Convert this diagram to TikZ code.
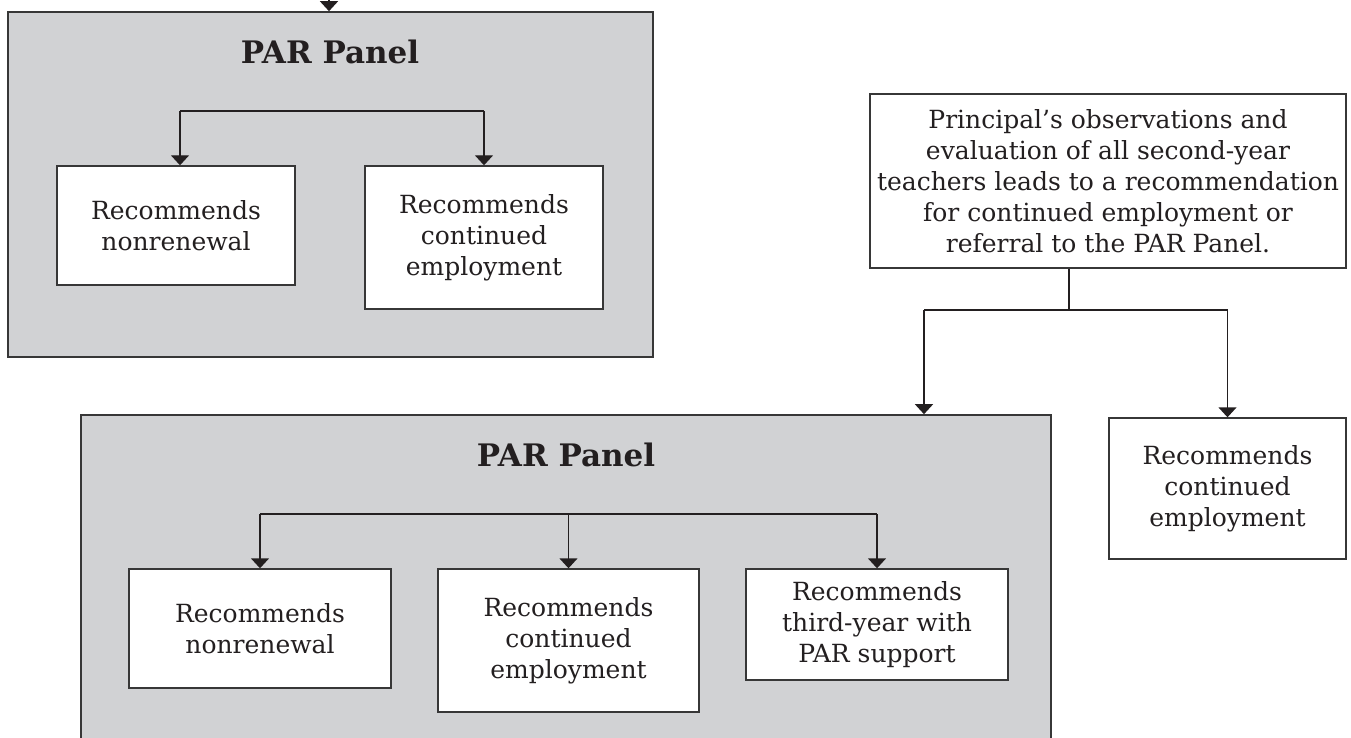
\documentclass[tikz,border=0pt]{standalone}
\usepackage{fontspec}
\setmainfont{DejaVu Serif}
\usetikzlibrary{arrows.meta}
\definecolor{panelgray}{RGB}{209,210,212}
\definecolor{ink}{RGB}{35,31,32}
\definecolor{edge}{RGB}{55,55,55}
\tikzset{
  panel/.style={draw=edge, fill=panelgray, line width=0.8pt, inner sep=0pt},
  wbox/.style={draw=edge, fill=white, line width=0.7pt, inner sep=0pt, align=center, text=ink,
     font=\fontsize{12.5}{15.5}\selectfont},
  ptitle/.style={text=ink, font=\fontsize{15.5}{18}\selectfont\bfseries, inner sep=0pt},
  conn/.style={draw=ink, line width=0.7pt},
  arr/.style={conn, -{Triangle[width=9pt,length=5pt]}}
}
\begin{document}
\begin{tikzpicture}[x=0.5pt,y=-0.5pt]
\useasboundingbox (0,0) rectangle (1351,738);
% top panel
\node[panel, minimum width=322.5pt, minimum height=172.5pt] (P1) at (330.5,184.5) {};
\node[ptitle] (T1) at (330,52) {PAR Panel};
\node[wbox, minimum width=119pt, minimum height=59.5pt] (A1) at (176,225.5) {Recommends\\nonrenewal};
\node[wbox, minimum width=119pt, minimum height=71.5pt] (B1) at (484,237.5) {Recommends\\continued\\employment};
\coordinate (topin) at (329,-10);
\draw[arr] (topin) -- (topin |- P1.north);
\coordinate (s1l) at (180,111);
\coordinate (s1r) at (484,111);
\draw[conn] (s1l) -- (s1r);
\draw[arr] (s1l) -- (s1l |- A1.north);
\draw[arr] (s1r) -- (B1.north);
% principal box
\node[wbox, minimum width=238pt, minimum height=87pt] (Pr) at (1108,181) {Principal’s observations and\\evaluation of all second-year\\teachers leads to a recommendation\\for continued employment or\\referral to the PAR Panel.};
\node[wbox, minimum width=118.5pt, minimum height=70.5pt] (R) at (1227.5,488.5) {Recommends\\continued\\employment};
% bottom panel
\node[panel, minimum width=485pt, minimum height=192.5pt] (P2) at (566,607.5) {};
\node[ptitle] (T2) at (566,455) {PAR Panel};
\node[wbox, minimum width=131pt, minimum height=59.5pt] (A2) at (260,628.5) {Recommends\\nonrenewal};
\node[wbox, minimum width=130.5pt, minimum height=71.5pt] (B2) at (568.5,640.5) {Recommends\\continued\\employment};
\node[wbox, minimum width=131pt, minimum height=55.5pt] (C2) at (877,624.5) {Recommends\\third-year with\\PAR support};
% principal connectors
\coordinate (stem) at (1069,310);
\coordinate (jl) at (924,310);
\coordinate (jr) at (1227.5,310);
\draw[conn] (stem |- Pr.south) -- (stem);
\draw[conn] (jl) -- (jr);
\draw[arr] (jl) -- (jl |- P2.north);
\draw[arr] (jr) -- (R.north);
% bottom panel connectors
\coordinate (s2l) at (260,514);
\coordinate (s2m) at (568.5,514);
\coordinate (s2r) at (877,514);
\draw[conn] (s2l) -- (s2r);
\draw[arr] (s2l) -- (A2.north);
\draw[arr] (s2m) -- (B2.north);
\draw[arr] (s2r) -- (C2.north);
\end{tikzpicture}
\end{document}
